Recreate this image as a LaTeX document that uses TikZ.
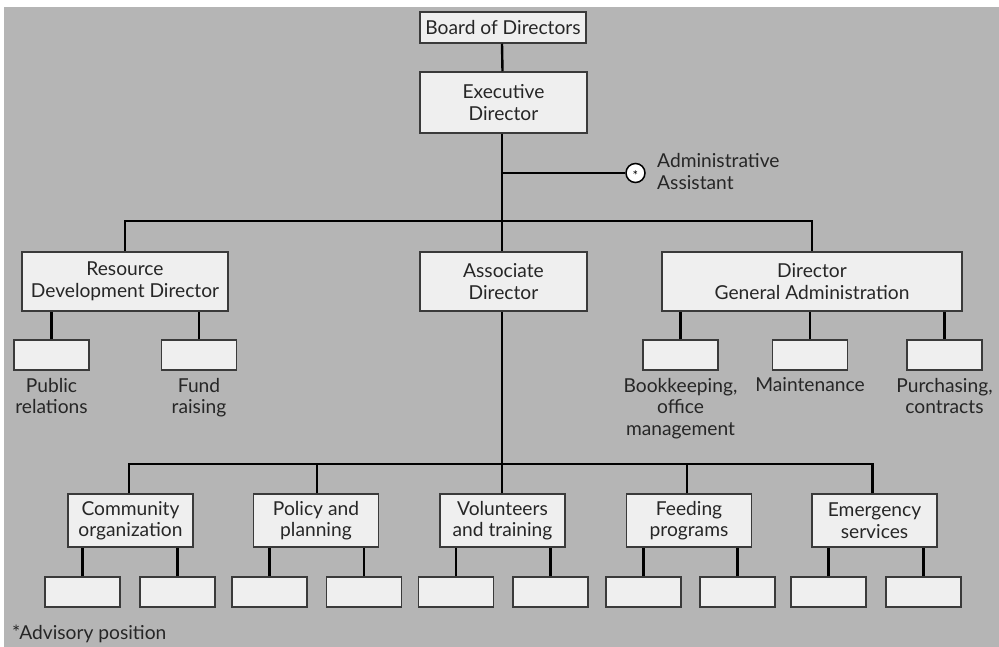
\documentclass[tikz,border=0pt]{standalone}
\usepackage{fontspec}
\setmainfont{Lato}
\definecolor{bg}{HTML}{B5B5B5}
\definecolor{boxfill}{HTML}{EFEFEF}
\definecolor{boxline}{HTML}{3A3A3A}
\definecolor{txt}{HTML}{262626}
\tikzset{
  orgbox/.style={draw=boxline, line width=1.5pt, fill=boxfill, inner sep=0pt, align=center,
    text=txt, font={\fontsize{19.2}{21.5}\selectfont}},
  smallbox/.style={orgbox, minimum width=75pt, minimum height=30pt},
  lowbox/.style={orgbox, minimum width=125pt, minimum height=53pt},
  midbox/.style={orgbox, minimum height=59pt},
  lab/.style={inner sep=0pt, align=center, text=txt, font={\fontsize{19.2}{21.5}\selectfont}},
  link/.style={draw=black, line width=2.4pt},
}
\begin{document}
\begin{tikzpicture}[x=1pt, y=-1pt]
\useasboundingbox (0,0) rectangle (999,647);
\fill[white] (0,0) rectangle (999,647);
\fill[bg] (4,7) rectangle (999,647);

% top
\node[orgbox, minimum width=166pt, minimum height=31pt] (board) at (503,27.5) {Board of Directors};
\node[orgbox, minimum width=167pt, minimum height=61pt] (exec) at (503.5,102.5) {Executive\\Director};

% second level
\node[midbox, minimum width=206pt] (resdev) at (125,281.5) {Resource\\Development Director};
\node[midbox, minimum width=167pt] (assoc) at (503.5,281.5) {Associate\\Director};
\node[midbox, minimum width=300pt] (dga) at (812,281.5) {Director\\General Administration};

% admin assistant
\coordinate (hub) at (502,221);
\coordinate (adminj) at (502,173);
\node[circle, draw=black, line width=1.5pt, fill=white, minimum size=19pt, inner sep=0pt,
  font={\fontsize{13}{13}\selectfont}] (admin) at (635.5,173) {\smash{\raisebox{-7.3pt}{*}}};
\node[lab, align=left, anchor=west] (admintxt) at (657,171.5) {Administrative\\Assistant};

% third level (right/left)
\node[smallbox] (pubrel) at (51.5,355) {};
\node[smallbox] (fund) at (199,355) {};
\node[smallbox] (book) at (680.5,355) {};
\node[smallbox] (maint) at (810,355) {};
\node[smallbox] (purch) at (944.5,355) {};

\node[lab, anchor=north] (pubreltxt) at ([yshift=-7pt]pubrel.south) {Public\\relations};
\node[lab, anchor=north] (fundtxt) at ([yshift=-7pt]fund.south) {Fund\\raising};
\node[lab, anchor=north] (booktxt) at ([yshift=-7pt]book.south) {Bookkeeping,\\office\\management};
\node[lab, anchor=north] (mainttxt) at ([yshift=-7pt]maint.south) {Maintenance};
\node[lab, anchor=north] (purchtxt) at ([yshift=-7pt]purch.south) {Purchasing,\\contracts};

% lower level
\node[lowbox] (comm) at (130.5,520.5) {Community\\organization};
\node[lowbox] (policy) at (316,520.5) {Policy and\\planning};
\node[lowbox] (vol) at (502.5,520.5) {Volunteers\\and training};
\node[lowbox] (feed) at (689,520.5) {Feeding\\programs};
\node[lowbox] (emer) at (874.5,520.5) {Emergency\\services};
\coordinate (hub2) at (502,464);

\node[smallbox] (c1) at (82.5,592) {};
\node[smallbox] (c2) at (177.5,592) {};
\node[smallbox] (p1) at (269.5,592) {};
\node[smallbox] (p2) at (364,592) {};
\node[smallbox] (v1) at (456,592) {};
\node[smallbox] (v2) at (550.5,592) {};
\node[smallbox] (f1) at (643.5,592) {};
\node[smallbox] (f2) at (737.5,592) {};
\node[smallbox] (e1) at (828.5,592) {};
\node[smallbox] (e2) at (923.5,592) {};

\node[lab, anchor=base west] (note) at (12,639) {*Advisory position};

% connectors
\draw[link] ([xshift=-1pt]board.south) -- ([xshift=-1pt]exec.north);
\draw[link] ([xshift=-1.5pt]exec.south) -- ([xshift=-1.5pt]assoc.north);
\draw[link] (adminj) -- (admin.west);
\draw[link] (resdev.north) |- (hub) -| (dga.north);
\draw[link] (pubrel.north) -- (pubrel.north |- resdev.south);
\draw[link] (fund.north) -- (fund.north |- resdev.south);
\draw[link] (book.north) -- (book.north |- dga.south);
\draw[link] (maint.north) -- (maint.north |- dga.south);
\draw[link] (purch.north) -- (purch.north |- dga.south);
\draw[link] ([xshift=-1.5pt]assoc.south) -- (hub2);
\draw[link] ([xshift=-1.5pt]comm.north) |- (hub2);
\draw[link] ([xshift=-2pt]emer.north) |- (hub2);
\draw[link] ([xshift=1pt]policy.north) -- ([xshift=1pt]policy.north |- hub2);
\draw[link] ([xshift=-0.5pt]vol.north) -- ([xshift=-0.5pt]vol.north |- hub2);
\draw[link] ([xshift=-2pt]feed.north) -- ([xshift=-2pt]feed.north |- hub2);
\foreach \pp/\kid in {comm/c1, comm/c2, policy/p1, policy/p2, vol/v1, vol/v2, feed/f1, feed/f2, emer/e1, emer/e2}{
  \draw[link] (\kid.north) -- (\kid.north |- \pp.south);
}
\end{tikzpicture}
\end{document}
